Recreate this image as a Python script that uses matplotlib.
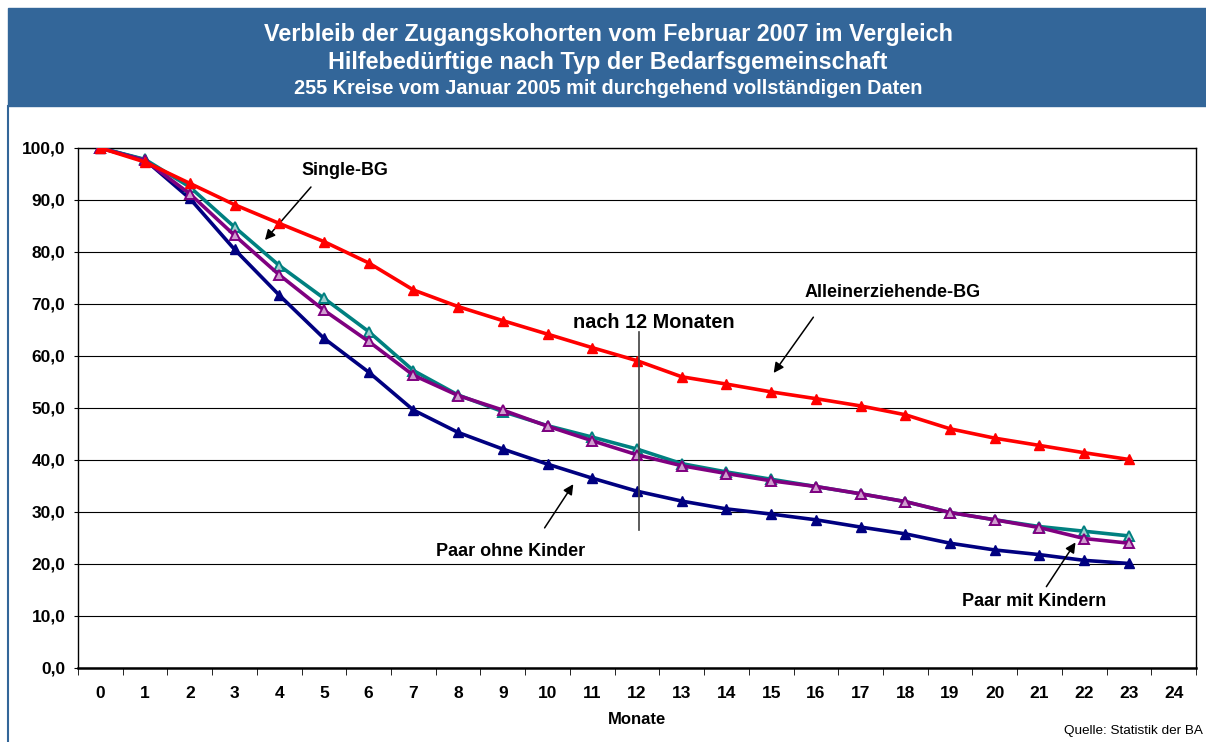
import matplotlib
matplotlib.use('Agg')
from matplotlib import pyplot as plt
from matplotlib.patches import Rectangle
from matplotlib.lines import Line2D

plt.rcParams['font.family'] = ['Liberation Sans', 'DejaVu Sans']

months = list(range(24))
x_labels = [str(i) for i in range(25)]
y_ticks = [0, 10, 20, 30, 40, 50, 60, 70, 80, 90, 100]

allein = [100.0, 97.3, 93.2, 89.1, 85.5, 82.0, 77.9, 72.7, 69.5, 66.8, 64.2, 61.6, 59.1,
          56.0, 54.6, 53.1, 51.8, 50.4, 48.7, 46.0, 44.2, 42.8, 41.4, 40.1]
single = [100.0, 97.8, 92.5, 84.8, 77.4, 71.1, 64.7, 57.2, 52.5, 49.3, 46.6, 44.4, 42.1,
          39.3, 37.7, 36.3, 34.9, 33.5, 32.0, 29.9, 28.5, 27.2, 26.3, 25.4]
paar_mit = [100.0, 97.6, 91.2, 83.2, 75.6, 68.8, 62.8, 56.3, 52.4, 49.6, 46.5, 43.7, 41.0,
            38.9, 37.4, 36.0, 34.9, 33.5, 32.0, 29.9, 28.5, 27.0, 24.9, 24.0]
paar_ohne = [100.0, 97.7, 90.3, 80.5, 71.7, 63.4, 56.9, 49.6, 45.3, 42.1, 39.2, 36.5, 34.0,
             32.1, 30.6, 29.6, 28.5, 27.1, 25.8, 24.0, 22.7, 21.8, 20.7, 20.1]

fig = plt.figure(figsize=(12.06, 7.42), dpi=100)

# title banner
W, H = 1206, 742
fig.patches.append(Rectangle((8 / W, 1 - 106 / H), 1 - 8 / W, 98 / H,
                             transform=fig.transFigure, color='#336699', zorder=0))
fig.lines.append(Line2D([7.5 / W, 7.5 / W], [0, 1 - 106 / H], transform=fig.transFigure,
                        color='#336699', lw=1.5))
fig.text(608 / W, 1 - 34 / H, 'Verbleib der Zugangskohorten vom Februar 2007 im Vergleich',
         color='white', fontsize=16.8, fontweight='bold', ha='center', va='center')
fig.text(608 / W, 1 - 63 / H, 'Hilfebedürftige nach Typ der Bedarfsgemeinschaft',
         color='white', fontsize=16.8, fontweight='bold', ha='center', va='center')
fig.text(608 / W, 1 - 89 / H, '255 Kreise vom Januar 2005 mit durchgehend vollständigen Daten',
         color='white', fontsize=14.3, fontweight='bold', ha='center', va='center')

ax = fig.add_axes([78 / W, 74 / H, (1196 - 78) / W, (668 - 148) / H])

ax.plot(months, allein, color='#FF0000', lw=2.6, marker='^', ms=6.5, zorder=5)
ax.plot(months, single, color='#008080', lw=2.6, marker='^', ms=6.5, mew=1.4,
        markerfacecolor='#9fcfcf', zorder=4)
ax.plot(months, paar_mit, color='#800080', lw=2.6, marker='^', ms=6.5, mew=1.4,
        markerfacecolor='#cf9fcf', zorder=4)
ax.plot(months, paar_ohne, color='#000080', lw=2.6, marker='^', ms=6.5, zorder=3)

ax.set_xlim(-0.5, 24.5)
ax.set_ylim(0, 100)
ax.set_yticks(y_ticks)
ax.set_yticklabels([f'{v},0' for v in y_ticks], fontsize=12.5, fontweight='bold')
ax.yaxis.grid(True, color='black', lw=0.8)
ax.set_axisbelow(True)
ax.set_xticks(range(25))
ax.set_xticklabels(x_labels, fontsize=12.5, fontweight='bold')
ax.set_xticks([i - 0.5 for i in range(26)], minor=True)
ax.tick_params(axis='x', which='major', length=0, pad=13)
ax.tick_params(axis='x', which='minor', length=5, direction='out')
ax.tick_params(axis='y', length=3, direction='out', pad=6)
for s in ax.spines.values():
    s.set_color('black')
    s.set_linewidth(1)
ax.spines['bottom'].set_linewidth(1.8)
ax.set_xlabel('Monate', fontsize=12, fontweight='bold', labelpad=8)

# annotations
arrow = dict(arrowstyle='-|>', color='black', lw=1.1, mutation_scale=15)
ax.annotate('', xy=(3.64, 81.9), xytext=(4.75, 92.9), arrowprops=arrow)
ax.text(5.47, 95.6, 'Single-BG', fontsize=12.9, fontweight='bold', ha='center', va='center')
ax.annotate('', xy=(15.02, 56.3), xytext=(15.98, 67.9), arrowprops=arrow)
ax.text(17.72, 72.3, 'Alleinerziehende-BG', fontsize=13, fontweight='bold',
        ha='center', va='center')
ax.plot([12.05, 12.05], [26.5, 64.6], color='#404040', lw=1.2, zorder=6)
ax.text(12.38, 66.5, 'nach 12 Monaten', fontsize=14.3, fontweight='bold',
        ha='center', va='center')
ax.annotate('', xy=(10.61, 35.8), xytext=(9.90, 26.5), arrowprops=arrow)
ax.text(9.18, 22.5, 'Paar ohne Kinder', fontsize=13, fontweight='bold',
        ha='center', va='center')
ax.annotate('', xy=(21.84, 24.6), xytext=(21.12, 15.2), arrowprops=arrow)
ax.text(20.88, 12.7, 'Paar mit Kindern', fontsize=13, fontweight='bold',
        ha='center', va='center')

fig.text(1203 / W, 1 - 731 / H, 'Quelle: Statistik der BA', fontsize=9.7,
         ha='right', va='center')

fig.savefig('out.png', dpi=100)
plt.close()
